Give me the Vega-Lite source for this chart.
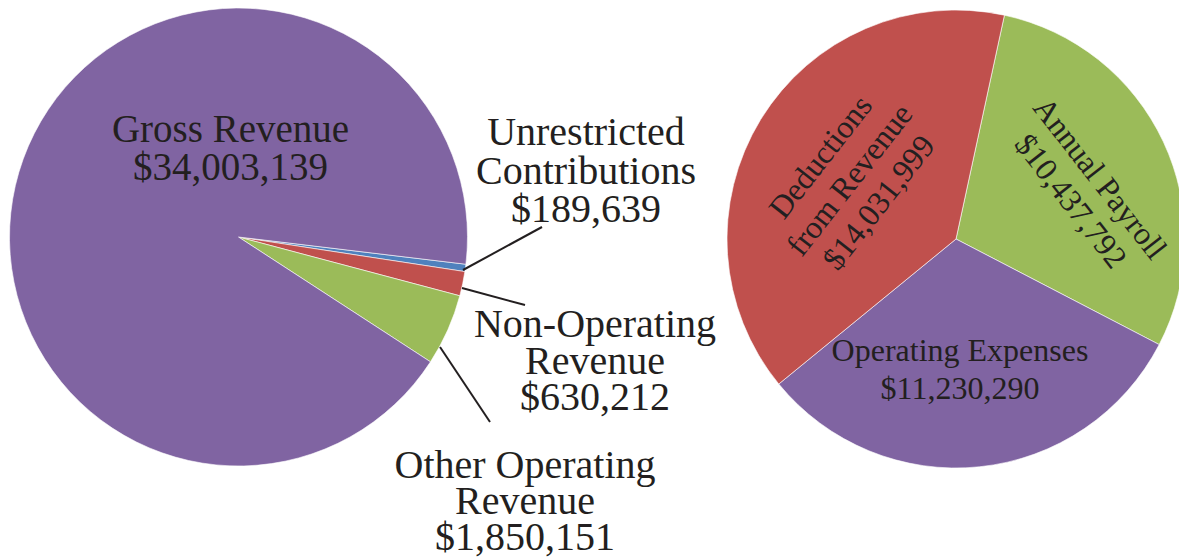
{
  "$schema": "https://vega.github.io/schema/vega-lite/v6.json",
  "width": 1179,
  "height": 557,
  "autosize": {"type": "none"},
  "padding": 0,
  "background": "white",
  "config": {"view": {"stroke": null}, "text": {"font": "Liberation Serif"}},
  "data": {"values": [
    {"pie": "Revenue", "category": "Unrestricted Contributions", "label": "Unrestricted\nContributions\n$189,639", "value": 189639, "order": 1},
    {"pie": "Revenue", "category": "Non-Operating Revenue", "label": "Non-Operating\nRevenue\n$630,212", "value": 630212, "order": 2},
    {"pie": "Revenue", "category": "Other Operating Revenue", "label": "Other Operating\nRevenue\n$1,850,151", "value": 1850151, "order": 3},
    {"pie": "Revenue", "category": "Gross Revenue", "label": "Gross Revenue\n$34,003,139", "value": 34003139, "order": 4},
    {"pie": "Expenses", "category": "Annual Payroll", "label": "Annual Payroll\n$10,437,792", "value": 10437792, "order": 1},
    {"pie": "Expenses", "category": "Operating Expenses", "label": "Operating Expenses\n$11,230,290", "value": 11230290, "order": 2},
    {"pie": "Expenses", "category": "Deductions from Revenue", "label": "Deductions\nfrom Revenue\n$14,031,999", "value": 14031999, "order": 3}
  ]},
  "encoding": {
    "x": {"field": "pie", "type": "nominal", "scale": {"type": "point", "domain": ["Revenue", "Expenses"], "range": [238.5, 956], "padding": 0}, "axis": null},
    "y": {"field": "pie", "type": "nominal", "scale": {"type": "point", "domain": ["Revenue", "Expenses"], "range": [237, 239], "padding": 0}, "axis": null}
  },
  "layer": [
    {
      "transform": [{"filter": "datum.pie === 'Revenue'"}],
      "mark": {"type": "arc", "outerRadius": 229, "stroke": "#ffffff", "strokeWidth": 0.6},
      "encoding": {
        "theta": {"field": "value", "type": "quantitative", "stack": true, "scale": {"range": [1.69, 7.9732]}},
        "order": {"field": "order", "type": "quantitative"},
        "color": {"field": "category", "type": "nominal", "legend": null, "scale": {
          "domain": ["Unrestricted Contributions", "Non-Operating Revenue", "Other Operating Revenue", "Gross Revenue", "Annual Payroll", "Operating Expenses", "Deductions from Revenue"],
          "range": ["#4F81BD", "#C0504D", "#9BBB59", "#8064A2", "#9BBB59", "#8064A2", "#C0504D"]}}
      }
    },
    {
      "transform": [{"filter": "datum.pie === 'Expenses'"}],
      "mark": {"type": "arc", "outerRadius": 229, "stroke": "#ffffff", "strokeWidth": 0.6},
      "encoding": {
        "theta": {"field": "value", "type": "quantitative", "stack": true, "scale": {"range": [0.213, 6.4962]}},
        "order": {"field": "order", "type": "quantitative"},
        "color": {"field": "category", "type": "nominal", "legend": null}
      }
    },
    {
      "transform": [{"filter": "datum.category === 'Gross Revenue'"}],
      "mark": {"type": "text", "fontSize": 39, "lineHeight": 38, "dx": -8, "dy": -107, "color": "#231f20", "align": "center", "baseline": "middle", "lineBreak": "\n"},
      "encoding": {"text": {"field": "label"}}
    },
    {
      "transform": [{"filter": "datum.category === 'Unrestricted Contributions'"}],
      "mark": {"type": "text", "fontSize": 40, "lineHeight": 38.5, "dx": 347.5, "dy": -104, "color": "#231f20", "align": "center", "baseline": "middle", "lineBreak": "\n"},
      "encoding": {"text": {"field": "label"}}
    },
    {
      "transform": [{"filter": "datum.category === 'Non-Operating Revenue'"}],
      "mark": {"type": "text", "fontSize": 40, "lineHeight": 36.5, "dx": 356.5, "dy": 88, "color": "#231f20", "align": "center", "baseline": "middle", "lineBreak": "\n"},
      "encoding": {"text": {"field": "label"}}
    },
    {
      "transform": [{"filter": "datum.category === 'Other Operating Revenue'"}],
      "mark": {"type": "text", "fontSize": 40, "lineHeight": 36, "dx": 286.5, "dy": 229, "color": "#231f20", "align": "center", "baseline": "middle", "lineBreak": "\n"},
      "encoding": {"text": {"field": "label"}}
    },
    {
      "transform": [{"filter": "datum.category === 'Operating Expenses'"}],
      "mark": {"type": "text", "fontSize": 32, "lineHeight": 38, "dx": 4, "dy": 112, "color": "#231f20", "align": "center", "baseline": "middle", "lineBreak": "\n"},
      "encoding": {"text": {"field": "label"}}
    },
    {
      "transform": [{"filter": "datum.category === 'Deductions from Revenue'"}],
      "mark": {"type": "text", "fontSize": 32, "lineHeight": 37, "angle": -52, "dx": -18.8, "dy": -156.8, "color": "#231f20", "align": "center", "baseline": "middle", "lineBreak": "\n"},
      "encoding": {"text": {"field": "label"}}
    },
    {
      "transform": [{"filter": "datum.category === 'Annual Payroll'"}],
      "mark": {"type": "text", "fontSize": 32, "lineHeight": 37, "angle": 52, "dx": 40.8, "dy": -150.4, "color": "#231f20", "align": "center", "baseline": "middle", "lineBreak": "\n"},
      "encoding": {"text": {"field": "label"}}
    },
    {
      "transform": [{"filter": "datum.category === 'Unrestricted Contributions'"}],
      "mark": {"type": "rule", "color": "#231f20", "strokeWidth": 2, "xOffset": 224.5, "yOffset": 33, "x2Offset": 303.5, "y2Offset": -10},
      "encoding": {"x2": {"field": "pie"}, "y2": {"field": "pie"}}
    },
    {
      "transform": [{"filter": "datum.category === 'Non-Operating Revenue'"}],
      "mark": {"type": "rule", "color": "#231f20", "strokeWidth": 2, "xOffset": 223.5, "yOffset": 51, "x2Offset": 286.5, "y2Offset": 68},
      "encoding": {"x2": {"field": "pie"}, "y2": {"field": "pie"}}
    },
    {
      "transform": [{"filter": "datum.category === 'Other Operating Revenue'"}],
      "mark": {"type": "rule", "color": "#231f20", "strokeWidth": 2, "xOffset": 201.5, "yOffset": 110, "x2Offset": 251.5, "y2Offset": 185},
      "encoding": {"x2": {"field": "pie"}, "y2": {"field": "pie"}}
    }
  ],
  "resolve": {"scale": {"theta": "independent"}}
}
